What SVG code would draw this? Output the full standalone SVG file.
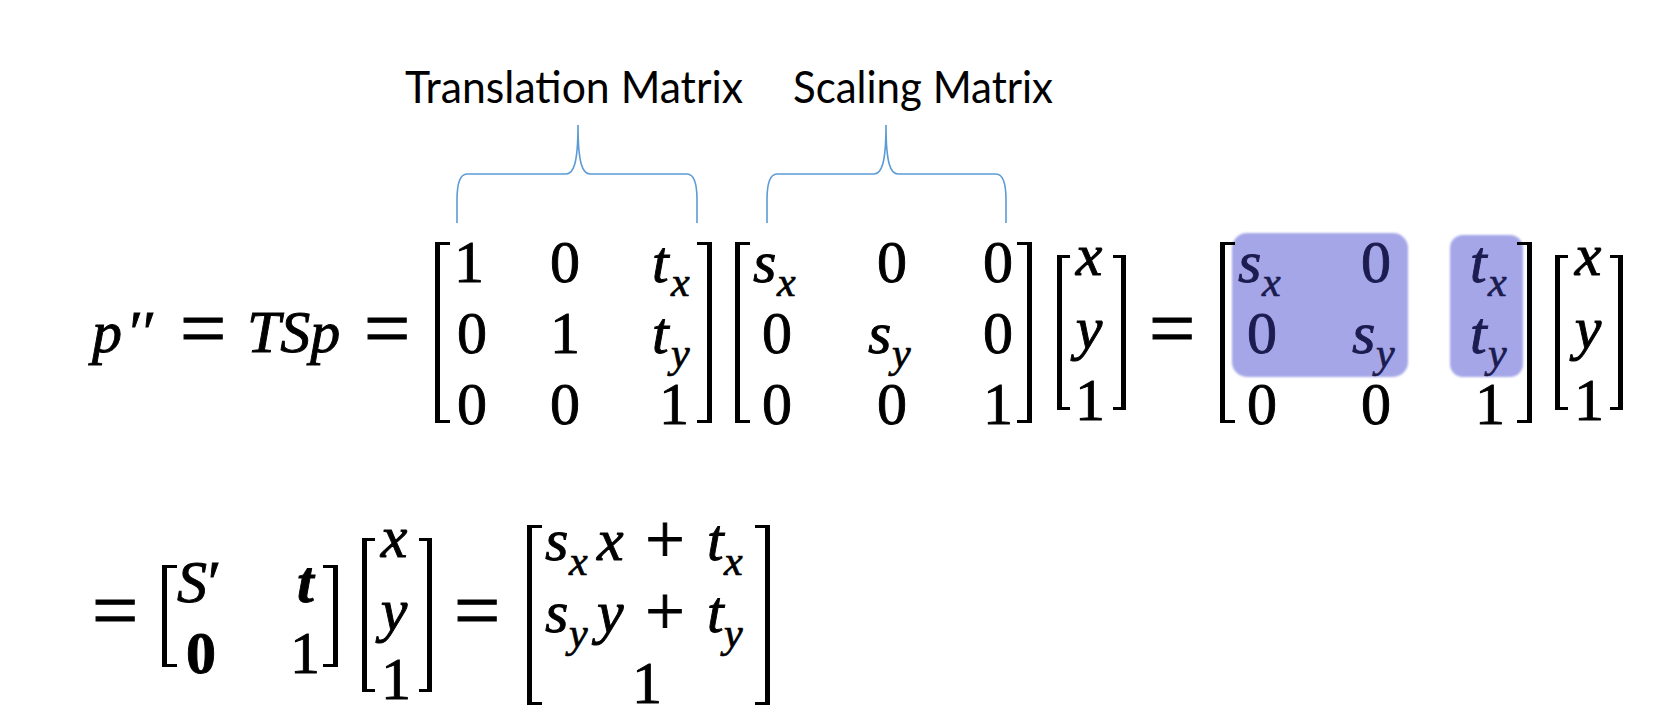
<svg xmlns="http://www.w3.org/2000/svg" width="1658" height="712" viewBox="0 0 1658 712">
<style>
.m{font-family:"Liberation Serif","DejaVu Serif",serif;font-size:60px;fill:#000;stroke:#000;stroke-width:0.9}
.i{font-style:italic}
.b{font-weight:bold}
.s{font-size:42px;stroke-width:0.7}
.c{text-anchor:middle}
.eq{font-size:82px;stroke-width:1.1}
.pl{font-size:70px;stroke-width:1}
.hlt{fill:#1C1C50;stroke:#1C1C50}
.br{fill:#000}
.brace{fill:none;stroke:#5B9BD5;stroke-width:1.6}
.lbl{font-family:Lato,"Liberation Sans",sans-serif;font-size:44px;fill:#000}
.hl{fill:#A4A6E8}
</style>
<defs>
<filter id="soft" x="-10%" y="-10%" width="120%" height="120%"><feGaussianBlur stdDeviation="1.2"/></filter>
</defs>
<rect width="1658" height="712" fill="#fff"/>

<g id="label-translation"><text class="lbl" x="405" y="103" textLength="338" lengthAdjust="spacingAndGlyphs">Translation Matrix</text></g>
<g id="label-scaling"><text class="lbl" x="793" y="103" textLength="260" lengthAdjust="spacingAndGlyphs">Scaling Matrix</text></g>

<g id="connectors">
<path class="brace" d="M457,223 L457,200 C457,182 460,174 467,174 L566,174 C573,174 578,165 578,125 C578,165 583,174 590,174 L687,174 C694,174 697,182 697,200 L697,223"/>
<path class="brace" d="M767,223 L767,200 C767,182 770,174 777,174 L874,174 C881,174 886,165 886,125 C886,165 891,174 898,174 L996,174 C1003,174 1006,182 1006,200 L1006,223"/>
</g>

<g id="lhs">
<text class="m i" x="92" y="352">p</text>
<text class="m i" x="126" y="352">′′</text>
<text class="m eq c" x="203" y="356">=</text>
<text class="m i" x="247" y="352">TSp</text>
<text class="m eq c" x="387" y="356">=</text>
</g>

<g id="translation-matrix">
<path class="br" d="M435 242H450V245H440V420H450V423H435Z"/>
<path class="br" d="M712 242H697V245H707V420H697V423H712Z"/>
<text class="m c" x="469" y="282">1</text>
<text class="m c" x="565" y="282">0</text>
<text class="m i" x="652" y="282">t</text><text class="m i s" x="671" y="296">x</text>
<text class="m c" x="472" y="353">0</text>
<text class="m c" x="565" y="353">1</text>
<text class="m i" x="652" y="353">t</text><text class="m i s" x="671" y="367">y</text>
<text class="m c" x="472" y="424">0</text>
<text class="m c" x="565" y="424">0</text>
<text class="m c" x="674" y="424">1</text>
</g>

<g id="scaling-matrix">
<path class="br" d="M735 242H750V245H740V420H750V423H735Z"/>
<path class="br" d="M1032 242H1017V245H1027V420H1017V423H1032Z"/>
<text class="m i" x="753" y="282">s</text><text class="m i s" x="777" y="296">x</text>
<text class="m c" x="892" y="282">0</text>
<text class="m c" x="998" y="282">0</text>
<text class="m c" x="777" y="353">0</text>
<text class="m i" x="868" y="353">s</text><text class="m i s" x="892" y="367">y</text>
<text class="m c" x="998" y="353">0</text>
<text class="m c" x="777" y="424">0</text>
<text class="m c" x="892" y="424">0</text>
<text class="m c" x="998" y="424">1</text>
</g>

<g id="vector-p1">
<path class="br" d="M1057 255H1070V258H1062V407H1070V410H1057Z"/>
<path class="br" d="M1126 255H1113V258H1121V407H1113V410H1126Z"/>
<text class="m i c" x="1089" y="275">x</text>
<text class="m i c" x="1089" y="348">y</text>
<text class="m c" x="1090" y="420">1</text>
</g>

<g id="eq-mid"><text class="m eq c" x="1172" y="356">=</text></g>

<g id="combined-matrix">
<rect class="hl" x="1232" y="233" width="176" height="144" rx="15" filter="url(#soft)"/>
<rect class="hl" x="1450" y="235" width="73" height="142" rx="13" filter="url(#soft)"/>
<path class="br" d="M1220 242H1235V245H1225V420H1235V423H1220Z"/>
<path class="br" d="M1532 242H1517V245H1527V420H1517V423H1532Z"/>
<text class="m i hlt" x="1238" y="282">s</text><text class="m i s hlt" x="1262" y="296">x</text>
<text class="m c hlt" x="1376" y="282">0</text>
<text class="m i hlt" x="1470" y="282">t</text><text class="m i s hlt" x="1488" y="296">x</text>
<text class="m c hlt" x="1262" y="353">0</text>
<text class="m i hlt" x="1352" y="353">s</text><text class="m i s hlt" x="1376" y="367">y</text>
<text class="m i hlt" x="1470" y="353">t</text><text class="m i s hlt" x="1488" y="367">y</text>
<text class="m c" x="1262" y="424">0</text>
<text class="m c" x="1376" y="424">0</text>
<text class="m c" x="1490" y="424">1</text>
</g>

<g id="vector-p2">
<path class="br" d="M1555 255H1568V258H1560V407H1568V410H1555Z"/>
<path class="br" d="M1623 255H1610V258H1618V407H1610V410H1623Z"/>
<text class="m i c" x="1588" y="275">x</text>
<text class="m i c" x="1588" y="348">y</text>
<text class="m c" x="1589" y="420">1</text>
</g>

<g id="eq-row2"><text class="m eq c" x="115" y="638">=</text></g>

<g id="block-matrix">
<path class="br" d="M162 565H177V568H167V664H177V667H162Z"/>
<path class="br" d="M338 565H323V568H333V664H323V667H338Z"/>
<text class="m i" x="177" y="602">S</text><text class="m" x="208" y="602">′</text>
<text class="m i b" x="297" y="602">t</text>
<text class="m b c" x="201" y="673">0</text>
<text class="m c" x="305" y="673">1</text>
</g>

<g id="vector-p3">
<path class="br" d="M362 538H375V541H367V689H375V692H362Z"/>
<path class="br" d="M432 538H419V541H427V689H419V692H432Z"/>
<text class="m i c" x="394" y="557">x</text>
<text class="m i c" x="394" y="630">y</text>
<text class="m c" x="396" y="699">1</text>
</g>

<g id="eq-row2b"><text class="m eq c" x="477" y="638">=</text></g>

<g id="result-vector">
<path class="br" d="M527 525H542V528H532V702H542V705H527Z"/>
<path class="br" d="M770 525H755V528H765V702H755V705H770Z"/>
<text class="m i" x="545" y="560">s</text><text class="m i s" x="569" y="575">x</text>
<text class="m i" x="597" y="560">x</text>
<text class="m pl c" x="665" y="563">+</text>
<text class="m i" x="707" y="560">t</text><text class="m i s" x="724" y="575">x</text>
<text class="m i" x="545" y="632">s</text><text class="m i s" x="569" y="647">y</text>
<text class="m i" x="597" y="632">y</text>
<text class="m pl c" x="665" y="635">+</text>
<text class="m i" x="707" y="632">t</text><text class="m i s" x="724" y="647">y</text>
<text class="m c" x="647" y="703">1</text>
</g>
</svg>
